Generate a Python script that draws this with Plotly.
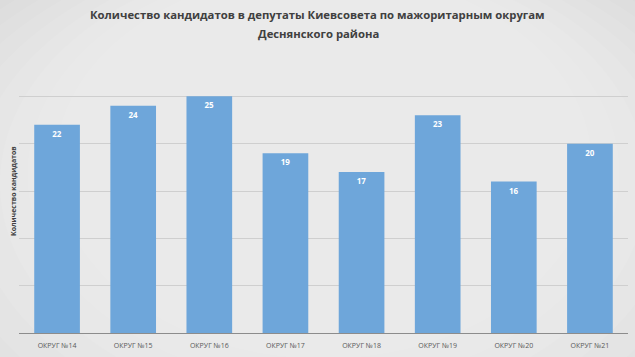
import plotly.graph_objects as go

categories = ["ОКРУГ №14", "ОКРУГ №15", "ОКРУГ №16", "ОКРУГ №17",
              "ОКРУГ №18", "ОКРУГ №19", "ОКРУГ №20", "ОКРУГ №21"]
values = [22, 24, 25, 19, 17, 23, 16, 20]
title_line1 = "Количество кандидатов в депутаты Киевсовета по мажоритарным округам"
title_line2 = "Деснянского района"
y_title = "Количество кандидатов"

W, H = 635, 357
ml, mr, mt, mb = 19, 7, 49, 19
pw, ph = W - ml - mr, H - mt - mb

fig = go.Figure()
fig.add_trace(go.Bar(
    x=categories, y=values,
    marker=dict(color="#6ea6da", line=dict(width=0)),
    text=[str(v) for v in values],
    textposition="inside", insidetextanchor="end",
    textfont=dict(color="white", size=8, family="Open Sans"),
    texttemplate="<b>%{text}</b>",
    width=0.6,
))

# radial-ish gradient background via stacked translucent ellipses
shapes = []
for i in range(10):
    f = i / 10
    shapes.append(dict(type="circle", xref="paper", yref="paper",
                       x0=-0.35 + 0.35 * f * 1.3, x1=1.35 - 0.35 * f * 1.3,
                       y0=-0.9 + 0.9 * f, y1=1.5 - 0.25 * f,
                       fillcolor="white", opacity=0.08, line=dict(width=0),
                       layer="below"))

def py(pix):  # pixel y from top -> paper coord
    return (H - mb - pix) / ph

def px(pix):
    return (pix - ml) / pw

fig.update_layout(
    width=W, height=H,
    margin=dict(l=ml, r=mr, t=mt, b=mb),
    paper_bgcolor="#d6d6d6", plot_bgcolor="rgba(0,0,0,0)",
    showlegend=False,
    bargap=0.4,
    shapes=shapes,
    xaxis=dict(showgrid=False, showline=True, linecolor="#8c8c8c", linewidth=1,
               ticks="", ticklabelstandoff=6,
               tickfont=dict(family="Open Sans", size=7, color="#595959")),
    yaxis=dict(range=[0, 30], dtick=5, showticklabels=False, showgrid=True,
               gridcolor="#cfcfcf", gridwidth=1, zeroline=False, showline=False),
    annotations=[
        dict(text="<b>" + title_line1 + "</b>", xref="paper", yref="paper",
             x=px(317), y=py(14), xanchor="center", yanchor="middle", showarrow=False,
             font=dict(family="Open Sans", size=11.3, color="#404040")),
        dict(text="<b>" + title_line2 + "</b>", xref="paper", yref="paper",
             x=px(318), y=py(33), xanchor="center", yanchor="middle", showarrow=False,
             font=dict(family="Open Sans", size=11.3, color="#404040")),
        dict(text="<b>" + y_title + "</b>", textangle=-90,
             xref="paper", yref="paper", x=px(13), y=0.5,
             xanchor="center", yanchor="middle", showarrow=False,
             font=dict(family="Open Sans", size=7, color="#404040")),
    ],
)
fig.write_html("out.html", config={"displayModeBar": False},
               post_script="document.body.style.margin='0';")
